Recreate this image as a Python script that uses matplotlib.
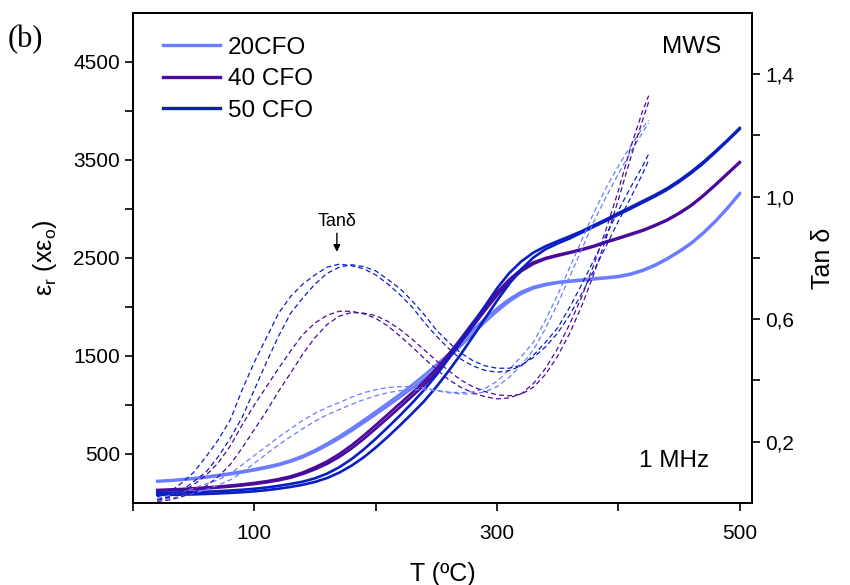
import matplotlib
matplotlib.use("Agg")
import matplotlib.pyplot as plt
from matplotlib.ticker import FixedLocator, FuncFormatter

plt.rcParams['font.family'] = ['Liberation Sans', 'DejaVu Sans']
plt.rcParams['mathtext.default'] = 'regular'

# --- permittivity eps_r (solid lines), two runs per sample, T = 20..500 step 10
T_eps = list(range(20, 501, 10))
eps20_a = [225, 232, 242, 254, 268, 285, 303, 323, 345, 370, 398, 435, 482, 540, 607,
           680, 760, 845, 932, 1020, 1110, 1205, 1305, 1410, 1520, 1640, 1765, 1880,
           1985, 2080, 2155, 2205, 2235, 2255, 2268, 2280, 2292, 2302, 2315, 2340, 2378,
           2430, 2495, 2570, 2655, 2760, 2880, 3015, 3163]
eps20_b = [218, 225, 234, 246, 259, 275, 293, 312, 333, 357, 385, 422, 467, 523, 588,
           658, 735, 818, 903, 990, 1078, 1170, 1268, 1372, 1482, 1600, 1725, 1845,
           1955, 2055, 2135, 2190, 2223, 2245, 2258, 2270, 2282, 2293, 2306, 2330, 2368,
           2420, 2485, 2560, 2645, 2750, 2870, 3005, 3152]
eps40_a = [133, 138, 143, 150, 158, 167, 178, 190, 205, 222, 244, 272, 312, 365, 425,
           500, 588, 688, 795, 905, 1015, 1125, 1240, 1370, 1515, 1675, 1840, 2000,
           2150, 2280, 2385, 2455, 2500, 2532, 2560, 2590, 2625, 2668, 2705, 2745, 2785,
           2835, 2890, 2960, 3040, 3140, 3250, 3365, 3480]
eps40_b = [125, 130, 135, 141, 148, 157, 167, 179, 193, 210, 231, 258, 296, 343, 400,
           470, 555, 652, 758, 866, 976, 1088, 1203, 1332, 1477, 1635, 1800, 1962,
           2118, 2255, 2365, 2440, 2490, 2522, 2552, 2582, 2617, 2660, 2697, 2737, 2777,
           2827, 2882, 2952, 3032, 3132, 3242, 3357, 3472]
eps50_a = [105, 106, 108, 111, 115, 120, 127, 135, 145, 158, 175, 195, 218, 252, 300,
           365, 447, 545, 655, 772, 893, 1020, 1155, 1305, 1470, 1645, 1825, 2008,
           2190, 2345, 2465, 2555, 2620, 2672, 2722, 2775, 2835, 2895, 2957, 3018, 3080,
           3142, 3210, 3290, 3380, 3480, 3590, 3705, 3827]
eps50_b = [82, 83, 85, 88, 92, 97, 103, 110, 119, 131, 146, 164, 186, 215, 255,
           310, 380, 465, 565, 675, 792, 913, 1040, 1185, 1345, 1515, 1695, 1880,
           2065, 2235, 2385, 2505, 2590, 2648, 2700, 2760, 2820, 2880, 2942, 3003, 3065,
           3127, 3195, 3275, 3365, 3465, 3578, 3695, 3815]

# --- loss tangent (dashed lines), two runs per sample, T = 20..420 step 10, then 425
T_tan = list(range(20, 421, 10)) + [425]
tan20_a = [0.015, 0.025, 0.035, 0.048, 0.062, 0.075, 0.095, 0.125, 0.155, 0.185, 0.215,
           0.243, 0.27, 0.293, 0.312, 0.328, 0.345, 0.36, 0.37, 0.377, 0.38, 0.38, 0.376,
           0.368, 0.362, 0.36, 0.363, 0.374, 0.397, 0.435, 0.478, 0.525, 0.598, 0.68,
           0.77, 0.86, 0.95, 1.03, 1.10, 1.165, 1.225, 1.25]
tan20_b = [0.01, 0.015, 0.022, 0.032, 0.043, 0.058, 0.075, 0.10, 0.13, 0.16, 0.19,
           0.217, 0.243, 0.267, 0.288, 0.305, 0.322, 0.337, 0.35, 0.36, 0.367, 0.37, 0.37,
           0.366, 0.36, 0.356, 0.356, 0.363, 0.38, 0.41, 0.45, 0.50, 0.57, 0.65,
           0.74, 0.83, 0.92, 1.0, 1.075, 1.145, 1.21, 1.24]
tan40_a = [0.01, 0.02, 0.035, 0.06, 0.09, 0.13, 0.185, 0.255, 0.32, 0.38, 0.44,
           0.497, 0.55, 0.588, 0.613, 0.626, 0.626, 0.618, 0.603, 0.578, 0.545, 0.51, 0.472,
           0.437, 0.403, 0.378, 0.36, 0.347, 0.34, 0.343, 0.357, 0.39, 0.44, 0.505,
           0.585, 0.675, 0.78, 0.895, 1.02, 1.16, 1.28, 1.33]
tan40_b = [0.005, 0.01, 0.02, 0.035, 0.055, 0.085, 0.125, 0.18, 0.24, 0.30, 0.365,
           0.425, 0.487, 0.54, 0.583, 0.61, 0.622, 0.62, 0.612, 0.593, 0.567, 0.535, 0.50,
           0.465, 0.432, 0.402, 0.38, 0.364, 0.353, 0.35, 0.355, 0.378, 0.42, 0.48,
           0.555, 0.645, 0.75, 0.865, 0.99, 1.125, 1.25, 1.31]
tan50_a = [0.02, 0.035, 0.065, 0.10, 0.15, 0.205, 0.27, 0.37, 0.46, 0.54, 0.62,
           0.675, 0.715, 0.745, 0.77, 0.78, 0.775, 0.765, 0.745, 0.715, 0.68, 0.64, 0.59,
           0.545, 0.505, 0.47, 0.448, 0.433, 0.427, 0.432, 0.448, 0.482, 0.525, 0.572,
           0.64, 0.715, 0.795, 0.875, 0.955, 1.03, 1.10, 1.14]
tan50_b = [0.01, 0.02, 0.04, 0.07, 0.10, 0.15, 0.21, 0.28, 0.37, 0.46, 0.545,
           0.62, 0.67, 0.715, 0.75, 0.77, 0.778, 0.772, 0.758, 0.73, 0.70, 0.66, 0.615,
           0.565, 0.525, 0.49, 0.465, 0.448, 0.44, 0.44, 0.45, 0.475, 0.51, 0.555,
           0.615, 0.685, 0.76, 0.84, 0.92, 0.995, 1.075, 1.12]

labels = ["20CFO", "40 CFO", "50 CFO"]
colors = ["#6a7cff", "#4a0a9c", "#0a1fc2"]

fig = plt.figure(figsize=(8.5, 5.85), dpi=100)
ax = fig.add_axes([0.1565, 0.1402, 0.728, 0.8376])
ax2 = ax.twinx()

eps_sets = [(eps20_a, eps20_b), (eps40_a, eps40_b), (eps50_a, eps50_b)]
tan_sets = [(tan20_a, tan20_b), (tan40_a, tan40_b), (tan50_a, tan50_b)]

for (ea, eb), (ta, tb), c, lab in zip(eps_sets, tan_sets, colors, labels):
    ax.plot(T_eps, ea, color=c, lw=1.9, label=lab, zorder=3)
    ax.plot(T_eps, eb, color=c, lw=1.9, zorder=3)
    ax2.plot(T_tan, ta, color=c, lw=0.9, ls=(0, (4, 2.5)))
    ax2.plot(T_tan, tb, color=c, lw=0.9, ls=(0, (4, 2.5)))

ax.set_xlim(0, 510)
ax.set_ylim(0, 5000)
ax2.set_ylim(0, 1.6)

ax.xaxis.set_major_locator(FixedLocator([100, 300, 500]))
ax.xaxis.set_minor_locator(FixedLocator([0, 200, 400]))
ax.yaxis.set_major_locator(FixedLocator([500, 1500, 2500, 3500, 4500]))
ax.yaxis.set_minor_locator(FixedLocator([1000, 2000, 3000, 4000]))
ax2.yaxis.set_major_locator(FixedLocator([0.2, 0.6, 1.0, 1.4]))
ax2.yaxis.set_minor_locator(FixedLocator([0.4, 0.8, 1.2]))
ax2.yaxis.set_major_formatter(FuncFormatter(lambda v, p: f"{v:.1f}".replace(".", ",")))

for a in (ax, ax2):
    a.tick_params(which='both', direction='out', length=6, width=1.2, labelsize=15)
    for s in a.spines.values():
        s.set_linewidth(1.4)
ax.tick_params(axis='y', which='both', right=False)
ax.tick_params(axis='x', which='both', top=False, pad=9)

ax.set_xlabel("T (ºC)", fontsize=18, labelpad=14)
ax.set_ylabel("ε$_r$ (xε$_o$)", fontsize=18, labelpad=10)
ax2.set_ylabel("Tan δ", fontsize=18, labelpad=12)

ax2.annotate("Tanδ", xy=(168, 0.82), xytext=(168, 0.89), ha='center', va='bottom',
             fontsize=13, arrowprops=dict(arrowstyle='-|>', color='black', lw=1,
                                          mutation_scale=10, shrinkA=0, shrinkB=0))

ax.text(0.902, 0.93, "MWS", transform=ax.transAxes, ha='center', va='center', fontsize=17.5)
ax.text(0.875, 0.085, "1 MHz", transform=ax.transAxes, ha='center', va='center', fontsize=17.5)
fig.text(0.009, 0.932, "(b)", family='Liberation Serif', fontsize=22, va='center')

leg = ax.legend(loc='upper left', bbox_to_anchor=(0.032, 0.971), frameon=False,
                fontsize=17.5, handlelength=2.35, handletextpad=0.33, labelspacing=0.39,
                borderaxespad=0)
for h in leg.get_lines():
    h.set_linewidth(2.4)

fig.savefig("out.png", dpi=100)
